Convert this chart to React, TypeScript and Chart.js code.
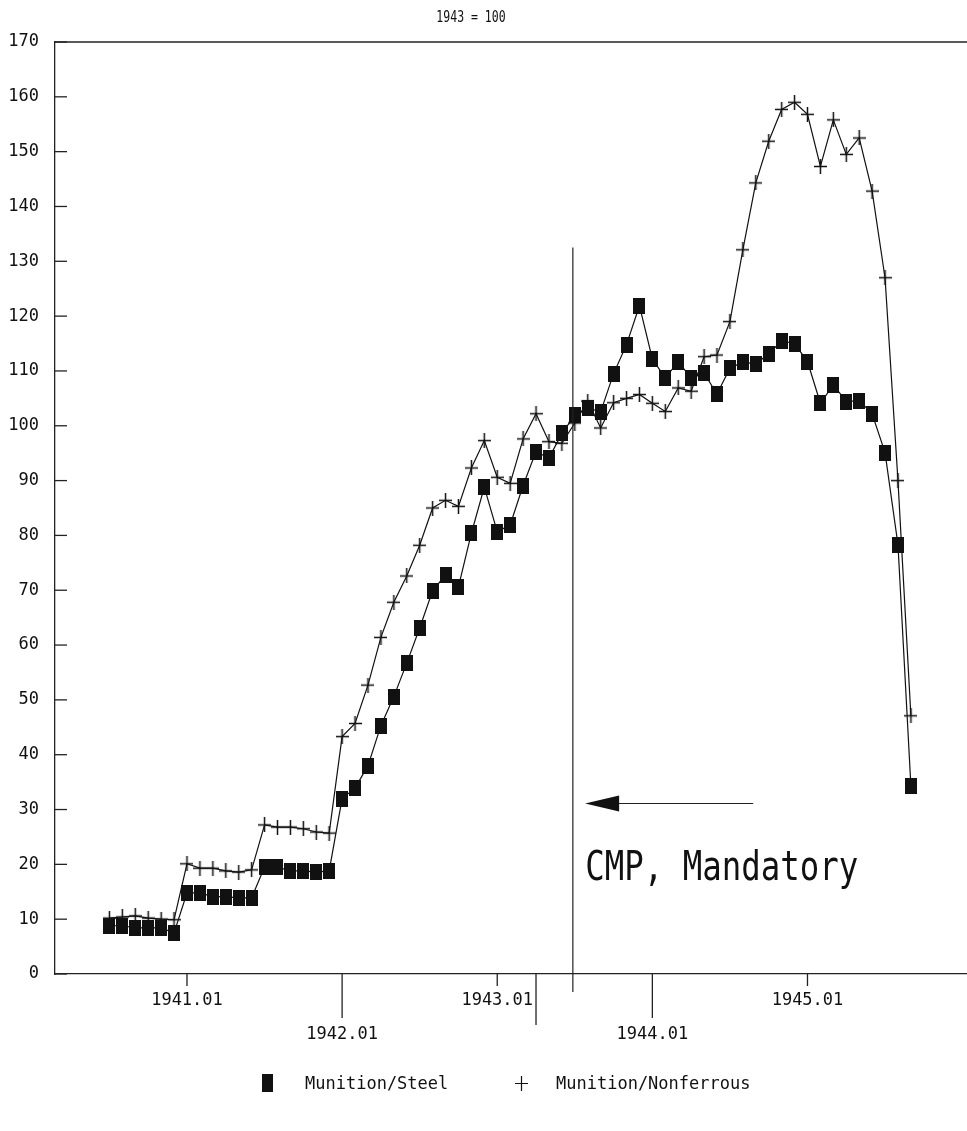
import React, { useEffect, useRef } from 'react';
import { Chart, registerables } from 'chart.js';

Chart.register(...registerables);

// Months (categories), July 1940 to September 1945
const months = [
  '1940.07', '1940.08', '1940.09', '1940.10', '1940.11', '1940.12',
  '1941.01', '1941.02', '1941.03', '1941.04', '1941.05', '1941.06',
  '1941.07', '1941.08', '1941.09', '1941.10', '1941.11', '1941.12',
  '1942.01', '1942.02', '1942.03', '1942.04', '1942.05', '1942.06',
  '1942.07', '1942.08', '1942.09', '1942.10', '1942.11', '1942.12',
  '1943.01', '1943.02', '1943.03', '1943.04', '1943.05', '1943.06',
  '1943.07', '1943.08', '1943.09', '1943.10', '1943.11', '1943.12',
  '1944.01', '1944.02', '1944.03', '1944.04', '1944.05', '1944.06',
  '1944.07', '1944.08', '1944.09', '1944.10', '1944.11', '1944.12',
  '1945.01', '1945.02', '1945.03', '1945.04', '1945.05', '1945.06',
  '1945.07', '1945.08', '1945.09',
];

const steel = [
  8.8, 8.8, 8.4, 8.4, 8.4, 7.5,
  14.8, 14.8, 14.1, 14.1, 13.9, 13.9,
  19.5, 19.5, 18.8, 18.8, 18.6, 18.8,
  32.0, 33.9, 38.0, 45.3, 50.6, 56.7,
  63.1, 69.9, 72.8, 70.6, 80.4, 88.8,
  80.7, 81.9, 89.1, 95.3, 94.1, 98.6,
  101.9, 103.3, 102.5, 109.5, 114.8, 121.9,
  112.2, 108.7, 111.7, 108.7, 109.6, 105.8,
  110.5, 111.6, 111.3, 113.1, 115.5, 115.0,
  111.7, 104.1, 107.5, 104.4, 104.6, 102.2,
  95.1, 78.3, 34.3,
];

const nonferrous = [
  10.2, 10.4, 10.6, 10.2, 10.0, 9.9,
  20.1, 19.3, 19.3, 18.8, 18.6, 19.0,
  27.2, 26.8, 26.8, 26.5, 25.9, 25.7,
  43.3, 45.7, 52.7, 61.4, 67.8, 72.6,
  78.2, 85.0, 86.4, 85.3, 92.3, 97.3,
  90.6, 89.5, 97.6, 102.2, 97.1, 96.8,
  100.5, 104.5, 99.6, 104.2, 105.0, 105.7,
  104.1, 102.6, 106.9, 106.3, 112.6, 112.9,
  119.0, 132.1, 144.3, 151.9, 157.7, 159.0,
  156.8, 147.3, 155.8, 149.5, 152.5, 142.8,
  127.0, 90.0, 47.1,
];

const xTickLabels = ['1941.01', '1942.01', '1943.01', '1944.01', '1945.01'];
const extraTickLabel = '1943.04';
const legendLabels = ['Munition/Steel', 'Munition/Nonferrous'];
const titleText = '1943 = 100';
const noteText = 'CMP, Mandatory';

// annotation anchors (months since 1940.01, index value)
const cmpLineMonth = 41.85;
const cmpLineTop = 132.5;
const arrowTipMonth = 42.8;
const arrowTailMonth = 55.8;
const arrowValue = 31.1;
const noteMonth = 42.8;
const noteValue = 17.1;

const monthIndex = (s: string) => {
  const [yr, mo] = s.split('.').map(Number);
  return (yr - 1940) * 12 + (mo - 1);
};

const MONO = "'DejaVu Sans Mono', 'Liberation Mono', monospace";
const INK = '#111';

export default function App() {
  const ref = useRef<HTMLCanvasElement>(null);

  useEffect(() => {
    const canvas = ref.current;
    if (!canvas) return;
    document.body.style.overflow = 'hidden';

    const mk = (w: number, h: number, draw: (g: CanvasRenderingContext2D) => void) => {
      const c = document.createElement('canvas');
      c.width = w;
      c.height = h;
      const g = c.getContext('2d')!;
      draw(g);
      return c;
    };
    const squareImg = mk(12, 16, (g) => {
      g.fillStyle = INK;
      g.fillRect(0, 0, 12, 16);
    });
    const crossImg = mk(13, 15, (g) => {
      g.strokeStyle = INK;
      g.lineWidth = 1.5;
      g.beginPath();
      g.moveTo(0, 7.5);
      g.lineTo(13, 7.5);
      g.moveTo(6.5, 0);
      g.lineTo(6.5, 15);
      g.stroke();
    });
    const legendSquare = mk(11, 18, (g) => {
      g.fillStyle = INK;
      g.fillRect(0, 0, 11, 18);
    });
    const legendCross = mk(13, 15, (g) => {
      g.strokeStyle = INK;
      g.lineWidth = 1.2;
      g.beginPath();
      g.moveTo(0, 7.5);
      g.lineTo(13, 7.5);
      g.moveTo(6.5, 0);
      g.lineTo(6.5, 15);
      g.stroke();
    });

    const scaledText = (
      ctx: CanvasRenderingContext2D,
      text: string,
      x: number,
      y: number,
      size: number,
      sx: number,
      align: CanvasTextAlign,
    ) => {
      ctx.save();
      ctx.translate(x, y);
      ctx.scale(sx, 1);
      ctx.font = `${size}px ${MONO}`;
      ctx.textAlign = align;
      ctx.textBaseline = 'alphabetic';
      ctx.fillStyle = INK;
      ctx.fillText(text, 0, 0);
      ctx.restore();
    };

    const decor = {
      id: 'decor',
      afterDraw(chart: any) {
        const { ctx, chartArea: a } = chart;
        const xs = chart.scales.x;
        const ys = chart.scales.y;
        const line = (x1: number, y1: number, x2: number, y2: number) => {
          ctx.beginPath();
          ctx.moveTo(x1, y1);
          ctx.lineTo(x2, y2);
          ctx.stroke();
        };
        ctx.save();
        ctx.strokeStyle = '#222';
        ctx.lineWidth = 1.3;
        // top frame
        line(a.left, a.top, a.right, a.top);
        // inward y ticks
        ys.ticks.forEach((t: any) => {
          const py = ys.getPixelForValue(t.value);
          line(a.left, py, a.left + 12, py);
        });
        // outward x ticks, long for staggered labels
        xs.ticks.forEach((t: any, i: number) => {
          const px = xs.getPixelForValue(t.value);
          line(px, a.bottom, px, a.bottom + (i % 2 === 1 ? 44 : 12));
        });
        const ex = xs.getPixelForValue(monthIndex(extraTickLabel));
        line(ex, a.bottom, ex, a.bottom + 51);
        // CMP vertical line
        const cx = xs.getPixelForValue(cmpLineMonth);
        ctx.lineWidth = 1.2;
        line(cx, ys.getPixelForValue(cmpLineTop), cx, a.bottom + 18);
        // arrow
        const tipX = xs.getPixelForValue(arrowTipMonth);
        const tailX = xs.getPixelForValue(arrowTailMonth);
        const ay = ys.getPixelForValue(arrowValue);
        ctx.lineWidth = 1.1;
        line(tipX + 30, ay, tailX, ay);
        ctx.fillStyle = INK;
        ctx.beginPath();
        ctx.moveTo(tipX, ay);
        ctx.lineTo(tipX + 34, ay - 8);
        ctx.lineTo(tipX + 34, ay + 8);
        ctx.closePath();
        ctx.fill();
        // note text
        scaledText(ctx, noteText, xs.getPixelForValue(noteMonth), ys.getPixelForValue(noteValue), 41, 0.79, 'left');
        // title
        scaledText(ctx, titleText, 471, 22, 16, 0.72, 'center');
        // legend
        const ly = 1083;
        ctx.drawImage(legendSquare, 262, ly - 9);
        scaledText(ctx, legendLabels[0], 305, ly + 6, 17, 1, 'left');
        ctx.drawImage(legendCross, 515, ly - 7);
        scaledText(ctx, legendLabels[1], 556, ly + 6, 17, 1, 'left');
        ctx.restore();
      },
    };

    const tickFont = { family: MONO, size: 17 };

    const chart = new Chart(canvas, {
      type: 'line',
      data: {
        datasets: [
          {
            label: legendLabels[0],
            data: months.map((m, i) => ({ x: monthIndex(m), y: steel[i] })),
            borderColor: INK,
            backgroundColor: INK,
            borderWidth: 1.2,
            pointStyle: squareImg as any,
            pointRadius: 6,
            tension: 0,
            fill: false,
            clip: false,
          },
          {
            label: legendLabels[1],
            data: months.map((m, i) => ({ x: monthIndex(m), y: nonferrous[i] })),
            borderColor: INK,
            backgroundColor: INK,
            borderWidth: 1.2,
            pointStyle: crossImg as any,
            pointRadius: 6,
            tension: 0,
            fill: false,
            clip: false,
          },
        ],
      },
      options: {
        responsive: false,
        animation: false,
        layout: { autoPadding: false, padding: { top: 42, left: 0, right: 0, bottom: 0 } },
        plugins: {
          legend: { display: false },
          title: { display: false },
          tooltip: { enabled: false },
        },
        scales: {
          x: {
            type: 'linear',
            min: 1.79,
            max: 72.34,
            grid: { display: false, drawTicks: false, tickLength: 0 },
            border: { display: true, color: '#222', width: 1.3 },
            afterBuildTicks: (s: any) => {
              s.ticks = xTickLabels.map((l) => ({ value: monthIndex(l) }));
            },
            afterFit: (s: any) => {
              s.height = 157;
            },
            ticks: {
              autoSkip: false,
              maxRotation: 0,
              minRotation: 0,
              padding: 10,
              color: INK,
              font: { ...tickFont, lineHeight: 1.97 },
              callback: (_v: any, i: number) =>
                i % 2 === 1 ? ['', xTickLabels[i]] : xTickLabels[i],
            },
          },
          y: {
            type: 'linear',
            min: 0,
            max: 170,
            grid: { display: false, drawTicks: false, tickLength: 0 },
            border: { display: true, color: '#222', width: 1.3 },
            afterFit: (s: any) => {
              s.width = 55;
            },
            ticks: {
              stepSize: 10,
              autoSkip: false,
              padding: 16,
              color: INK,
              font: tickFont,
            },
          },
        },
      },
      plugins: [decor],
    } as any);

    return () => chart.destroy();
  }, []);

  return (
    <div style={{ position: 'absolute', left: 0, top: 0, width: 967, height: 1131, background: '#fff' }}>
      <canvas ref={ref} width={967} height={1131} style={{ display: 'block' }} />
    </div>
  );
}
